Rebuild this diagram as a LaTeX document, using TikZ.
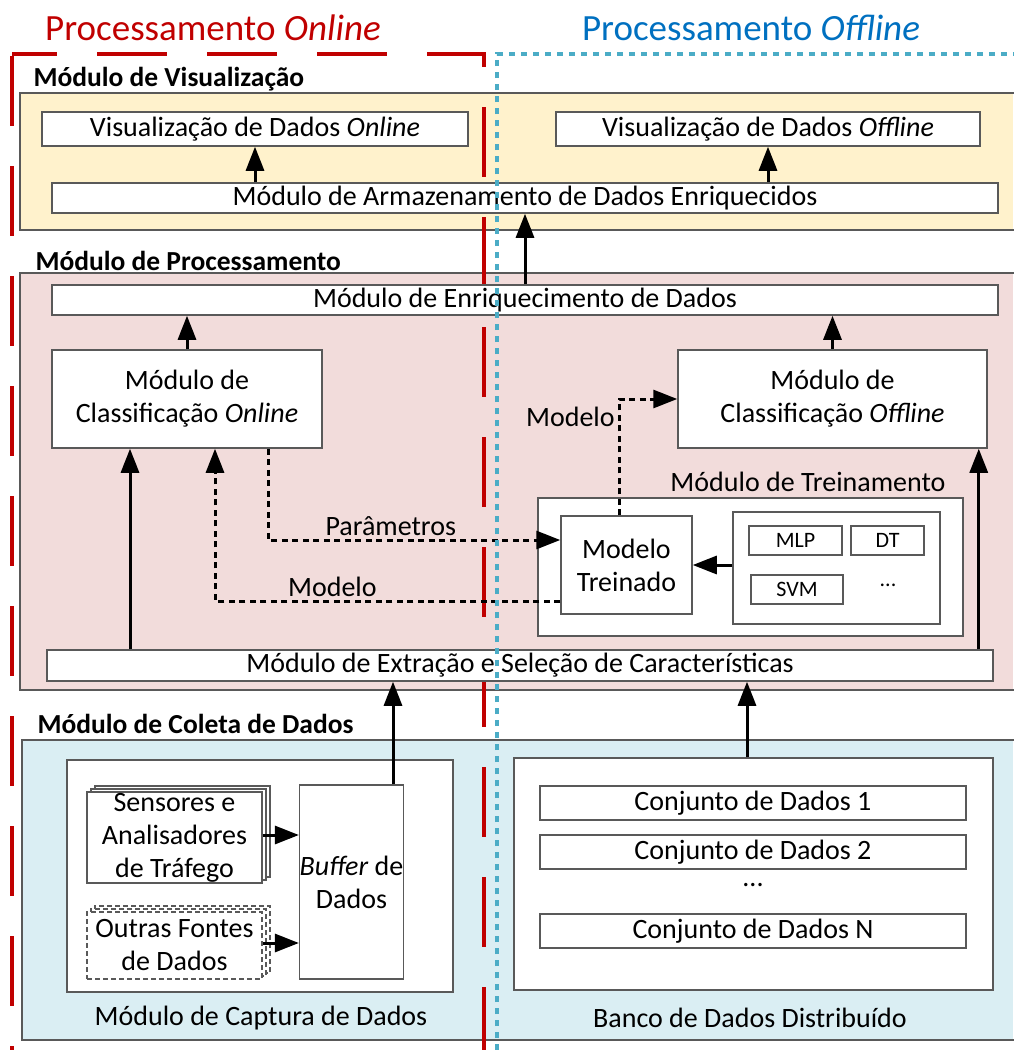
\documentclass[tikz,border=0pt]{standalone}
\usepackage{fontspec}
\setmainfont{Carlito}
\usepackage{tikz}
\usetikzlibrary{arrows.meta}
\usetikzlibrary{calc}

\definecolor{onred}{HTML}{C00000}
\definecolor{offblue}{HTML}{4BACC6}
\definecolor{offtext}{HTML}{0070C0}
\definecolor{visfill}{HTML}{FFF2CC}
\definecolor{procfill}{HTML}{F2DCDB}
\definecolor{colfill}{HTML}{DAEEF3}
\definecolor{edge}{HTML}{595959}

\tikzset{
  panel/.style={draw=edge, line width=1.5pt},
  txt/.style={font=\fontsize{28}{33}\selectfont},
  box/.style={draw=edge, line width=1.5pt, fill=white, inner sep=0pt, align=center, txt},
  small/.style={box, font=\fontsize{22}{26}\selectfont},
  title/.style={font=\fontsize{27.5}{32}\selectfont\bfseries, anchor=west},
  arr/.style={line width=3pt, -{Triangle[length=24pt,width=18pt]}},
  dasharr/.style={line width=3pt, dash pattern=on 6pt off 4.5pt, -{Triangle[length=24pt,width=18pt]}},
}

\begin{document}
\begin{tikzpicture}[x=1pt, y=-1pt]
        \useasboundingbox (0,0) rectangle (1014,1050);
        % panels
        \fill[visfill] (20,93) rectangle (1013,230);
        \draw[panel] (1014,93) -- (20,93) -- (20,230) -- (1014,230);
        \fill[procfill] (20,273) rectangle (1013,690);
        \draw[panel] (1014,273) -- (20,273) -- (20,690) -- (1014,690);
        \fill[colfill] (22,740) rectangle (1013,1040);
        \draw[panel] (1014,740) -- (22,740) -- (22,1040) -- (1014,1040);
        \node[title] at (30,79) {Módulo de Visualização};
        \node[title] at (32,261) {Módulo de Processamento};
        \node[title] at (34,724) {Módulo de Coleta de Dados};

        % online
        \draw[onred, line width=4pt, dash pattern=on 70pt off 40pt, dash phase=25pt] (12,54) -- (484,54) -- (484,1050);
        \draw[onred, line width=4pt, dash pattern=on 70pt off 40pt] (12,56) -- (12,1050);
        \node[onred, font=\fontsize{37}{42}\selectfont] at (213,28) {Processamento \textit{Online}};

        % visualizacao
        \node[box, minimum width=426pt, minimum height=34pt] (visOn) at (255,129) {Visualização de Dados \textit{Online}};
        \node[box, minimum width=424pt, minimum height=34pt] (visOff) at (768,129) {Visualização de Dados \textit{Offline}};
        \node[box, minimum width=946pt, minimum height=30pt] (armaz) at (525,198) {Módulo de Armazenamento de Dados Enriquecidos};
        \draw[arr] (armaz.north -| visOn.south) -- (visOn.south);
        \draw[arr] (armaz.north -| visOff.south) -- (visOff.south);

        % processamento
        \node[box, minimum width=946pt, minimum height=30pt] (enriq) at (525,300) {Módulo de Enriquecimento de Dados};
        \node[box, minimum width=270pt, minimum height=98pt] (clOn) at (187,399) {Módulo de\\Classificação \textit{Online}};
        \node[box, minimum width=309pt, minimum height=98pt] (clOff) at (832.5,399) {Módulo de\\Classificação \textit{Offline}};
        \node[box, minimum width=425pt, minimum height=138pt] (trein) at (750.5,567) {};
        \node[txt] at (808,482) {Módulo de Treinamento};
        \node[box, minimum width=131pt, minimum height=98pt] (modTr) at (626.5,565) {Modelo\\Treinado};
        \node[box, minimum width=207pt, minimum height=112pt] (alg) at (836.5,568) {};
        \node[small, minimum width=93pt, minimum height=29pt] (mlp) at (795.5,540.5) {MLP};
        \node[small, minimum width=73pt, minimum height=29pt] (dt) at (887.5,540.5) {DT};
        \node[small, minimum width=92pt, minimum height=29pt] (svm) at (797,589.5) {SVM};
        \node[small, draw=none, fill=none] (etc) at (888,585) {...};
        \node[box, minimum width=946pt, minimum height=31pt] (extr) at (520,665.5) {Módulo de Extração e Seleção de Características};

        \draw[arr] (clOn.north) -- (clOn.north |- enriq.south);
        \draw[arr] (clOff.north) -- (clOff.north |- enriq.south);
        \draw[arr] (enriq.north) -- (armaz.south);
        \draw[arr] ([xshift=-57pt]clOn.south |- extr.north) -- ([xshift=-57pt]clOn.south);
        \draw[arr] ([xshift=-9pt]clOff.south east |- extr.north) -- ([xshift=-9pt]clOff.south east);
        \draw[arr] (alg.west |- modTr.east) -- (modTr.east);
        \draw[dasharr] ([xshift=81pt]clOn.south) |- ([yshift=25pt]modTr.west)
          node[pos=0.71, above=-1pt, txt] {Parâmetros};
        \draw[dasharr] ([yshift=-36pt]modTr.west) -| ([xshift=28pt]clOn.south)
          node[pos=0.33, above=-1pt, txt] {Modelo};
        \draw[dasharr] ([xshift=-7pt]modTr.north) |- (clOff.west)
          node[pos=0.423, left=0pt, txt] {Modelo};

        % coleta
        \node[box, minimum width=386pt, minimum height=232pt] (capt) at (260,876) {};
        \node[txt] at (261,1018) {Módulo de Captura de Dados};
        \foreach \d in {8,4}
          \node[box, minimum width=175pt, minimum height=91pt] at (174.5+\d,837.5-0.75*\d) {};
        \node[box, minimum width=175pt, minimum height=91pt] (sens) at (174.5,837.5) {Sensores e\\Analisadores\\de Tráfego};
        \foreach \d in {8,4}
          \node[box, dash pattern=on 5pt off 3pt, minimum width=175pt, minimum height=67pt] at (174.5+\d,945.5-0.75*\d) {};
        \node[box, dash pattern=on 5pt off 3pt, minimum width=175pt, minimum height=67pt] (outr) at (174.5,945.5) {Outras Fontes\\de Dados};
        \node[box, minimum width=103pt, minimum height=194pt] (buf) at (351.5,882) {\textit{Buffer} de\\Dados};
        \draw[arr] ([yshift=2.5pt]sens.east) -- ([yshift=2.5pt]sens.east -| buf.west);
        \draw[arr] ([yshift=2.5pt]outr.east) -- ([yshift=2.5pt]outr.east -| buf.west);
        \draw[arr] ([xshift=41.5pt]buf.north) -- ([xshift=41.5pt]buf.north |- extr.south);

        \node[box, minimum width=479pt, minimum height=232pt] (banco) at (753.5,874) {};
        \node[txt] at (750,1018) {Banco de Dados Distribuído};
        \node[box, minimum width=426pt, minimum height=34pt] (conj1) at (753,803) {Conjunto de Dados 1};
        \node[box, minimum width=426pt, minimum height=34pt] (conj2) at (753,852) {Conjunto de Dados 2};
        \node[txt] (etcB) at (753,885) {...};
        \node[box, minimum width=426pt, minimum height=34pt] (conjN) at (753,931) {Conjunto de Dados N};
        \draw[arr] ([xshift=-6.5pt]banco.north) -- ([xshift=-6.5pt]banco.north |- extr.south);

        % offline
        \draw[offblue, line width=3.5pt, dash pattern=on 6pt off 6pt] (497,1050) -- (497,54) -- (1014,54);
        \node[offtext, font=\fontsize{37}{42}\selectfont] at (751,28) {Processamento \textit{Offline}};
\end{tikzpicture}
\end{document}
